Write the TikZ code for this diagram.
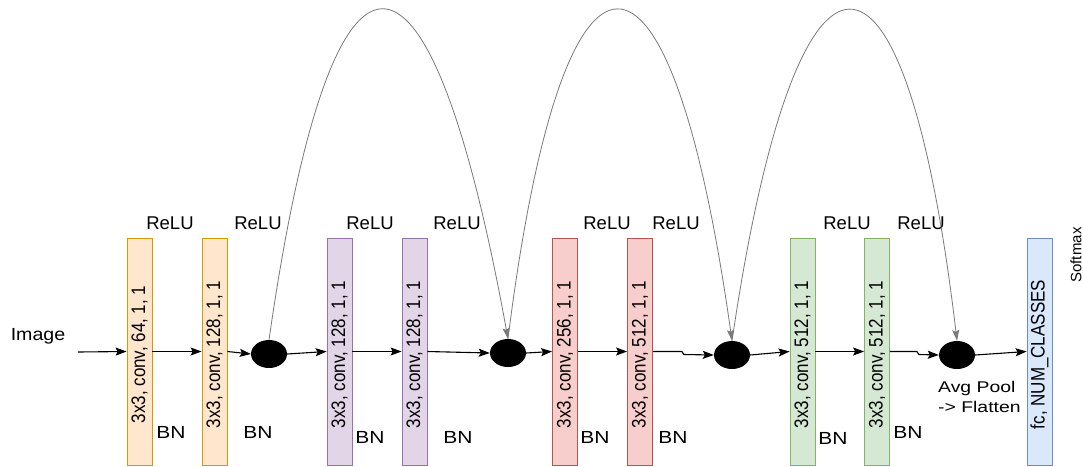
\documentclass[tikz,border=0pt]{standalone}
\usepackage{fontspec}
\setmainfont{Liberation Sans}
\usepackage{graphicx}
\usetikzlibrary{arrows.meta,shapes.geometric}
\definecolor{orF}{HTML}{FFE6CC}\definecolor{orD}{HTML}{D79B00}
\definecolor{puF}{HTML}{E1D5E7}\definecolor{puD}{HTML}{9673A6}
\definecolor{reF}{HTML}{F8CECC}\definecolor{reD}{HTML}{B85450}
\definecolor{grF}{HTML}{D5E8D4}\definecolor{grD}{HTML}{82B366}
\definecolor{blF}{HTML}{DAE8FC}\definecolor{blD}{HTML}{6C8EBF}
\definecolor{skipc}{HTML}{7A7A7A}
\newcommand\wide[2]{\scalebox{#1}[1]{#2}}
\begin{document}
\begin{tikzpicture}[x=1pt,y=-1pt,
  blk/.style={draw, line width=0.8pt, minimum width=25pt, minimum height=227pt, inner sep=0pt},
  orange/.style={blk, fill=orF, draw=orD},
  purple/.style={blk, fill=puF, draw=puD},
  red/.style={blk, fill=reF, draw=reD},
  green/.style={blk, fill=grF, draw=grD},
  blue/.style={blk, fill=blF, draw=blD},
  lbl/.style={font=\fontsize{17.5}{20}\selectfont, inner sep=0pt},
  relu/.style={font=\fontsize{18.5}{22}\selectfont, inner sep=0pt},
  conv/.style={rotate=90, font=\fontsize{17}{20}\selectfont, inner sep=0pt},
  dotn/.style={ellipse, fill=black, minimum width=36pt, minimum height=28pt, inner sep=0pt},
  flow/.style={-{Stealth[length=11pt,width=8pt,inset=2pt]}, line width=1.1pt},
  skip/.style={-{Stealth[length=11pt,width=7pt,inset=2pt]}, draw=skipc, line width=0.8pt}
]
\useasboundingbox[fill=white] (0,0) rectangle (1083,466);

% blocks
\node[orange] (b1) at (139.5,351.5) {};
\node[orange] (b2) at (214.5,351.5) {};
\node[purple] (b3) at (339.5,351.5) {};
\node[purple] (b4) at (414.5,351.5) {};
\node[red]    (b5) at (565,351.5) {};
\node[red]    (b6) at (640,351.5) {};
\node[green]  (b7) at (802.5,351.5) {};
\node[green]  (b8) at (877,351.5) {};
\node[blue]   (b9) at (1039.5,351.5) {};

% block texts
\node[conv] (t1) at ([yshift=-3pt]b1.center) {\scalebox{1}[1.15]{3x3, conv, 64, 1, 1}};
\node[conv] (t2) at ([yshift=-3pt]b2.center) {\scalebox{1}[1.15]{3x3, conv, 128, 1, 1}};
\node[conv] (t3) at ([yshift=-3pt]b3.center) {\scalebox{1}[1.15]{3x3, conv, 128, 1, 1}};
\node[conv] (t4) at ([yshift=-3pt]b4.center) {\scalebox{1}[1.15]{3x3, conv, 128, 1, 1}};
\node[conv] (t5) at ([yshift=-3pt]b5.center) {\scalebox{1}[1.15]{3x3, conv, 256, 1, 1}};
\node[conv] (t6) at ([yshift=-3pt]b6.center) {\scalebox{1}[1.15]{3x3, conv, 512, 1, 1}};
\node[conv] (t7) at ([yshift=-3pt]b7.center) {\scalebox{1}[1.15]{3x3, conv, 512, 1, 1}};
\node[conv] (t8) at ([yshift=-3pt]b8.center) {\scalebox{1}[1.15]{3x3, conv, 512, 1, 1}};
\node[conv] (t9) at ([yshift=-3pt]b9.center) {\scalebox{1}[1.15]{fc, NUM\_CLASSES}};

% junction dots
\node[dotn] (d1) at (269,354) {};
\node[dotn] (d2) at (508,353) {};
\node[dotn] (d3) at (732,355) {};
\node[dotn] (d4) at (957,355) {};

% labels
\node[lbl] (img) at (38,336) {\wide{1.12}{Image}};
\coordinate (in) at (78,352);
\foreach \x/\n in {170/r1,258/r2,370/r3,457/r4,607/r5,676/r6,847/r7,921/r8}
  \node[relu] (\n) at (\x,223) {ReLU};
\foreach \x/\y/\n in {171/432/n1,258/432/n2,370/437/n3,458/437/n4,595/437/n5,673/437/n6,833/438/n7,908/432/n8}
  \node[lbl] (\n) at (\x,\y) {\wide{1.2}{BN}};
\node[font=\fontsize{15.5}{20}\selectfont, align=left, anchor=west, inner sep=0pt] (avg) at (938,397)
  {\wide{1.25}{Avg Pool}\\\wide{1.25}{-> Flatten}};
\node[rotate=90, font=\fontsize{15}{18}\selectfont, inner sep=0pt] (sm) at (1076,255) {Softmax};

% main flow
\draw[flow] (in) -- (b1.west);
\draw[flow] (b1.east) -- (b2.west);
\draw[flow] (b2.east) -- (d1.west);
\draw[flow] (d1.east) -- (b3.west);
\draw[flow] (b3.east) -- (b4.west);
\draw[flow] (b4.east) -- (d2.west);
\draw[flow] (d2.east) -- (b5.west);
\draw[flow] (b5.east) -- (b6.west);
\draw[flow] (b6.east) -- ++(29,0) -- ++(2,3) -- (d3.west);
\draw[flow] (d3.east) -- (b7.west);
\draw[flow] (b7.east) -- (b8.west);
\draw[flow] (b8.east) -- ++(27,0) -- ++(2,3) -- (d4.west);
\draw[flow] (d4.east) -- (b9.west);

% skip connections
\draw[skip] (d1.north) .. controls (332,-100) and (428,-100) .. (d2.north);
\draw[skip] (d2.north) .. controls (563,-100) and (670,-100) .. (d3.north);
\draw[skip] (d3.north) .. controls (797,-100) and (905,-100) .. (d4.north);
\end{tikzpicture}
\end{document}
